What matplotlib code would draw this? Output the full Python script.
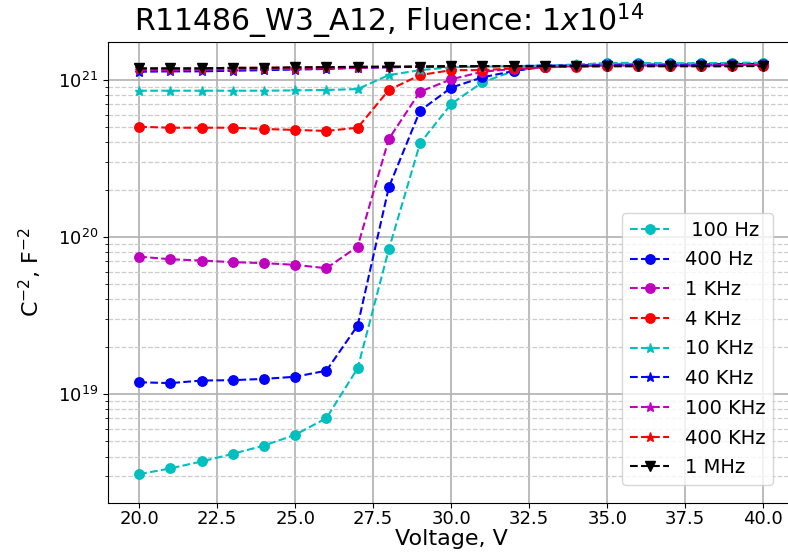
import numpy as np
import matplotlib
matplotlib.use("Agg")
import matplotlib.pyplot as plt

voltage = list(range(20, 41))

c_100Hz = [3.10e18, 3.37e18, 3.73e18, 4.17e18, 4.71e18, 5.51e18, 7.04e18, 1.46e19, 8.35e19, 3.94e20,
           7.01e20, 9.63e20, 1.136e21, 1.21e21, 1.24e21, 1.28e21, 1.28e21, 1.27e21, 1.27e21, 1.28e21, 1.28e21]
c_400Hz = [1.19e19, 1.175e19, 1.22e19, 1.227e19, 1.25e19, 1.29e19, 1.41e19, 2.73e19, 2.07e20, 6.35e20,
           8.9e20, 1.035e21, 1.136e21, 1.21e21, 1.23e21, 1.25e21, 1.25e21, 1.25e21, 1.25e21, 1.26e21, 1.26e21]
c_1kHz = [7.49e19, 7.21e19, 7.07e19, 6.91e19, 6.81e19, 6.64e19, 6.32e19, 8.68e19, 4.2e20, 8.39e20,
          1.006e21, 1.124e21, 1.17e21, 1.2e21, 1.22e21, 1.23e21, 1.23e21, 1.23e21, 1.23e21, 1.24e21, 1.24e21]
c_4kHz = [5.02e20, 4.95e20, 4.95e20, 4.95e20, 4.86e20, 4.79e20, 4.72e20, 4.95e20, 8.6e20, 1.07e21,
          1.15e21, 1.15e21, 1.18e21, 1.2e21, 1.21e21, 1.22e21, 1.22e21, 1.22e21, 1.22e21, 1.22e21, 1.23e21]
c_10kHz = [8.51e20, 8.51e20, 8.51e20, 8.51e20, 8.51e20, 8.55e20, 8.6e20, 8.72e20, 1.07e21, 1.15e21,
           1.2e21, 1.21e21, 1.22e21, 1.23e21, 1.25e21, 1.27e21, 1.27e21, 1.27e21, 1.27e21, 1.28e21, 1.28e21]
c_40kHz = [1.124e21, 1.13e21, 1.13e21, 1.14e21, 1.15e21, 1.16e21, 1.17e21, 1.19e21, 1.2e21, 1.21e21,
           1.22e21, 1.22e21, 1.22e21, 1.23e21, 1.23e21, 1.24e21, 1.24e21, 1.24e21, 1.24e21, 1.25e21, 1.25e21]
c_100kHz = [1.15e21, 1.15e21, 1.16e21, 1.16e21, 1.17e21, 1.17e21, 1.18e21, 1.19e21, 1.2e21, 1.21e21,
            1.21e21, 1.22e21, 1.22e21, 1.22e21, 1.23e21, 1.23e21, 1.23e21, 1.23e21, 1.23e21, 1.24e21, 1.24e21]
c_400kHz = [1.18e21, 1.18e21, 1.18e21, 1.19e21, 1.19e21, 1.19e21, 1.2e21, 1.2e21, 1.21e21, 1.21e21,
            1.21e21, 1.22e21, 1.22e21, 1.22e21, 1.22e21, 1.22e21, 1.22e21, 1.22e21, 1.22e21, 1.22e21, 1.23e21]
c_1MHz = [1.18e21, 1.18e21, 1.18e21, 1.19e21, 1.19e21, 1.2e21, 1.2e21, 1.21e21, 1.21e21, 1.21e21,
          1.22e21, 1.22e21, 1.22e21, 1.22e21, 1.22e21, 1.22e21, 1.22e21, 1.22e21, 1.22e21, 1.22e21, 1.22e21]

labels = [" 100 Hz", "400 Hz", "1 KHz", "4 KHz", "10 KHz", "40 KHz", "100 KHz", "400 KHz", "1 MHz"]
series = [c_100Hz, c_400Hz, c_1kHz, c_4kHz, c_10kHz, c_40kHz, c_100kHz, c_400kHz, c_1MHz]
colors = ["c", "b", "m", "r", "c", "b", "m", "r", "k"]
markers = ["o", "o", "o", "o", "*", "*", "*", "*", "v"]

W, H = 788, 556
fig = plt.figure(figsize=(W / 100, H / 100), dpi=100)
left, right, top, bottom = 108, 794.5, 42, 503
ax = fig.add_axes([left / W, 1 - bottom / H, (right - left) / W, (bottom - top) / H])

for y, lab, col, mk in zip(series, labels, colors, markers):
    ms = 6.8 if mk == "o" else 6.5
    ax.plot(voltage, y, linestyle="--", color=col, marker=mk, markersize=ms, label=lab)

ax.set_yscale("log")
ax.set_xlim(19, 41)
ax.set_ylim(2.03e18, 1.737e21)
ax.set_xticks([20.0, 22.5, 25.0, 27.5, 30.0, 32.5, 35.0, 37.5, 40.0])
ax.grid(True, which="major", color="#b0b0b0", linewidth=1.2)
ax.grid(True, which="minor", axis="y", color="#cccccc", linestyle="--", linewidth=0.9)
ax.tick_params(labelsize=13)
ax.tick_params(axis="x", pad=1.5)
ax.set_xlabel("Voltage, V", fontsize=16, labelpad=1)
ax.set_ylabel(r"C$^{-2}$, F$^{-2}$", fontsize=16, labelpad=10)

fig.text(389 / W, 1 - 21 / H, r"R11486_W3_A12, Fluence: $1x10^{14}$", fontsize=21.5,
         ha="center", va="center")

ax.legend(loc="lower right", bbox_to_anchor=(773 / W, 1 - 485 / H), bbox_transform=fig.transFigure,
          fontsize=14, numpoints=1, handlelength=2.0, labelspacing=0.55, borderaxespad=0)

fig.savefig("out.png", dpi=100)
